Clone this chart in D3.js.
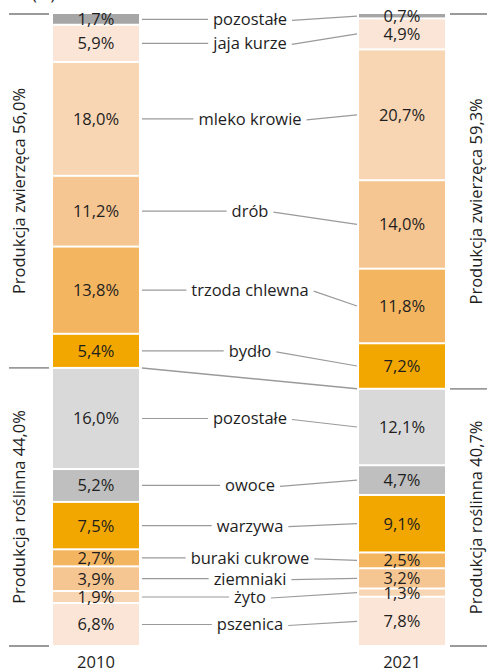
<!DOCTYPE html>
<html>
<head>
<meta charset="utf-8">
<script src="https://cdn.jsdelivr.net/npm/d3@7"></script>
<style>
  html, body { margin: 0; padding: 0; background: #fff; }
  svg { display: block; font-family: "Open Sans", "Noto Sans", sans-serif; }
</style>
</head>
<body>
<svg id="chart" width="487" height="669"></svg>
<script>
// Structure of agricultural output, 2010 vs 2021 (%), listed from the top of each column
const categories = ["pozostałe", "jaja kurze", "mleko krowie", "drób", "trzoda chlewna", "bydło",
                    "pozostałe", "owoce", "warzywa", "buraki cukrowe", "ziemniaki", "żyto", "pszenica"];
const years = ["2010", "2021"];
const values2010 = [1.7, 5.9, 18.0, 11.2, 13.8, 5.4, 16.0, 5.2, 7.5, 2.7, 3.9, 1.9, 6.8];
const values2021 = [0.7, 4.9, 20.7, 14.0, 11.8, 7.2, 12.1, 4.7, 9.1, 2.5, 3.2, 1.3, 7.8];
const colors = ["#a6a6a6", "#fbe5d6", "#f8d6b4", "#f6c692", "#f4b561", "#f2a700",
                "#d9d9d9", "#bfbfbf", "#f2a700", "#f4b561", "#f6c692", "#f8d6b4", "#fbe5d6"];
const animalCount = 6; // first six categories are livestock output
const groupLabels2010 = ["Produkcja zwierzęca 56,0%", "Produkcja roślinna 44,0%"];
const groupLabels2021 = ["Produkcja zwierzęca 59,3%", "Produkcja roślinna 40,7%"];
const unitLabel = "(%)";

const svg = d3.select("#chart");
const fmt = v => d3.format(".1f")(v).replace(".", ",") + "%";
const lineColor = "#9a9a9a";
const textColor = "#1e1e1e";
const fontSize = 16.5;

const y = d3.scaleLinear().domain([0, 100]).range([14, 646]);
const x = d3.scaleBand().domain(years).range([53, 445]).paddingInner(0.719).paddingOuter(0);
const bw = x.bandwidth();

function columnData(vals) {
  const ends = d3.cumsum(vals);
  return vals.map((v, i) => ({ i, v, y0: ends[i] - v, y1: ends[i], mid: ends[i] - v / 2 }));
}
const cols = { "2010": columnData(values2010), "2021": columnData(values2021) };

// Stacked columns with thin white gaps between segments
years.forEach(yr => {
  const g = svg.append("g");
  g.selectAll("rect").data(cols[yr]).join("rect")
    .attr("x", x(yr))
    .attr("width", bw)
    .attr("y", d => y(d.y0) + (d.i === 0 ? 0 : 1))
    .attr("height", d => Math.max(0.8, y(d.y1) - y(d.y0) - (d.i === 0 ? 1 : 2)))
    .attr("fill", d => colors[d.i]);
  g.selectAll("text").data(cols[yr]).join("text")
    .attr("x", x(yr) + bw / 2)
    .attr("y", d => y(d.mid))
    .attr("dy", "0.36em")
    .attr("text-anchor", "middle")
    .attr("font-size", fontSize)
    .attr("fill", textColor)
    .text(d => fmt(d.v));
  g.append("text")
    .attr("x", x(yr) + bw / 2)
    .attr("y", 662)
    .attr("dy", "0.36em")
    .attr("text-anchor", "middle")
    .attr("font-size", fontSize)
    .attr("fill", textColor)
    .text(yr);
});

// Category names between the columns, with leader lines to both segments
const leftEdge = x("2010") + bw + 3;
const rightEdge = x("2021") - 2;
const midX = (leftEdge + rightEdge) / 2 + 0.5;
const labels = svg.append("g");
categories.forEach((name, i) => {
  const ly = y(cols["2010"][i].mid);
  const ry = y(cols["2021"][i].mid);
  const t = labels.append("text")
    .attr("x", midX)
    .attr("y", ly)
    .attr("dy", "0.36em")
    .attr("text-anchor", "middle")
    .attr("font-size", fontSize)
    .attr("fill", textColor)
    .text(name);
  const w = t.node().getComputedTextLength();
  labels.append("line")
    .attr("x1", leftEdge).attr("y1", ly)
    .attr("x2", midX - w / 2 - 5).attr("y2", ly)
    .attr("stroke", lineColor).attr("stroke-width", 1.2);
  labels.append("line")
    .attr("x1", midX + w / 2 + 5).attr("y1", ly + 1)
    .attr("x2", rightEdge).attr("y2", ry)
    .attr("stroke", lineColor).attr("stroke-width", 1.2);
});

// Divider between livestock and crop output
const split2010 = d3.sum(values2010.slice(0, animalCount));
const split2021 = d3.sum(values2021.slice(0, animalCount));
svg.append("line")
  .attr("x1", leftEdge).attr("y1", y(split2010))
  .attr("x2", rightEdge).attr("y2", y(split2021))
  .attr("stroke", lineColor).attr("stroke-width", 1.5);

// Side brackets with group totals
function sideGroup(x1, x2, split, labelsText, tx) {
  [0, split, 100].forEach(v => {
    svg.append("line")
      .attr("x1", x1).attr("x2", x2)
      .attr("y1", y(v)).attr("y2", y(v))
      .attr("stroke", lineColor).attr("stroke-width", 1.8);
  });
  [[0, split], [split, 100]].forEach((r, k) => {
    const cy = y((r[0] + r[1]) / 2);
    svg.append("text")
      .attr("transform", `translate(${tx},${cy}) rotate(-90)`)
      .attr("text-anchor", "middle")
      .attr("dy", "0.36em")
      .attr("font-size", fontSize)
      .attr("fill", textColor)
      .text(labelsText[k]);
  });
}
sideGroup(9, 49, split2010, groupLabels2010, 19);
sideGroup(450, 487, split2021, groupLabels2021, 476);

svg.append("text")
  .attr("x", 32).attr("y", 0)
  .attr("font-size", fontSize)
  .attr("fill", textColor)
  .text(unitLabel);
</script>
</body>
</html>
